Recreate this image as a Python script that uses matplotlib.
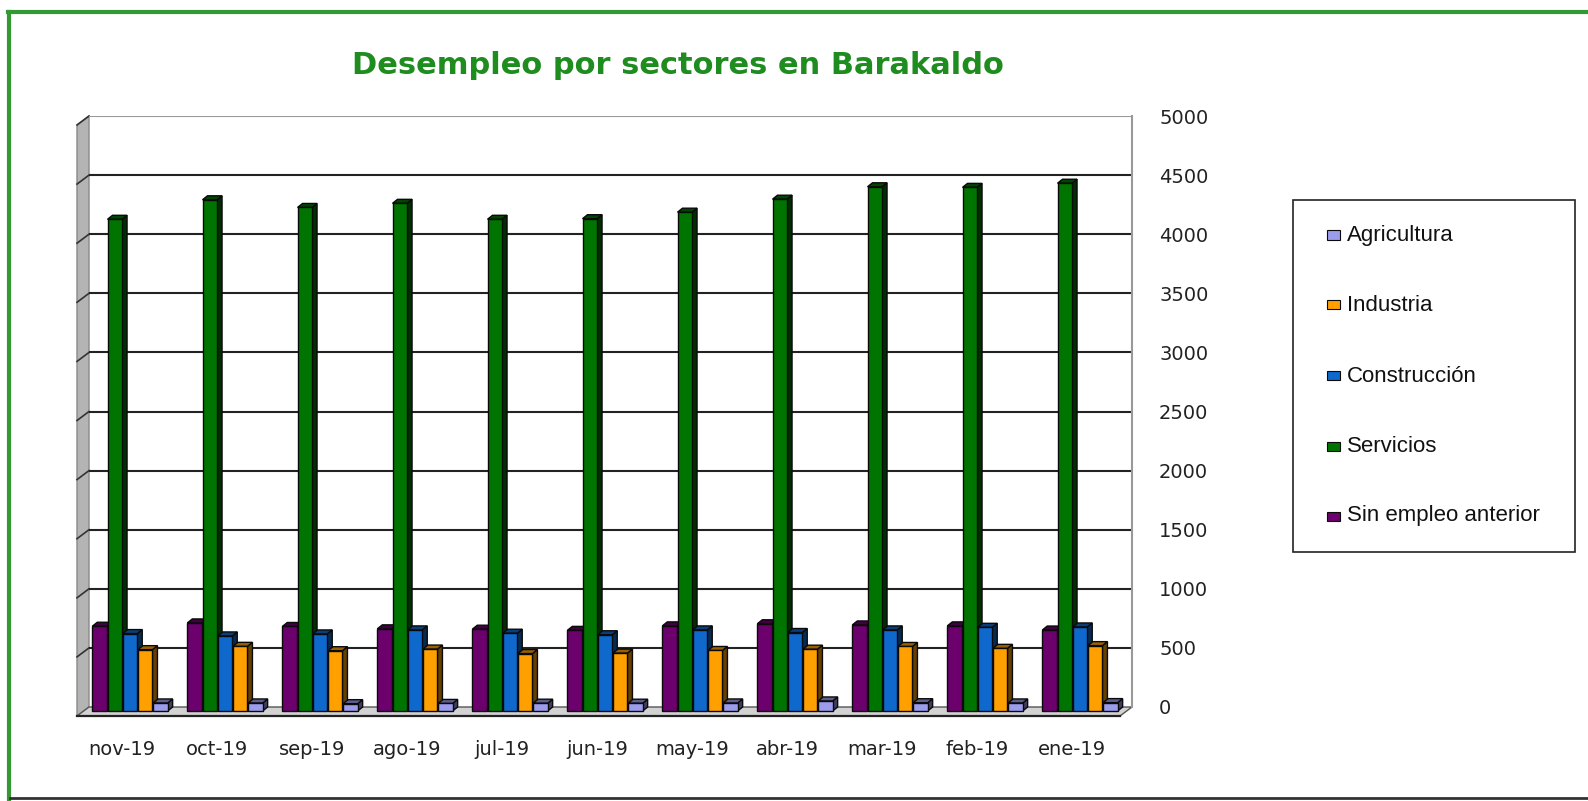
import numpy as np
import matplotlib
matplotlib.use('Agg')
import matplotlib.pyplot as plt
from matplotlib.patches import Polygon, Rectangle
from matplotlib.lines import Line2D
from matplotlib.colors import to_rgb
from matplotlib.transforms import IdentityTransform

meses = ['nov-19', 'oct-19', 'sep-19', 'ago-19', 'jul-19', 'jun-19',
         'may-19', 'abr-19', 'mar-19', 'feb-19', 'ene-19']
sin_empleo = [717, 745, 715, 695, 692, 682, 720, 738, 728, 720, 685]
servicios = [4160, 4325, 4260, 4295, 4160, 4165, 4220, 4330, 4435, 4430, 4465]
construccion = [655, 635, 652, 686, 658, 645, 686, 664, 686, 708, 711]
industria = [519, 547, 510, 524, 486, 490, 512, 523, 546, 530, 553]
agricultura = [68, 68, 62, 64, 66, 66, 68, 85, 70, 68, 71]
yticks = list(range(0, 5001, 500))

# orden de las barras dentro de cada mes (izq -> der)
series = [('Sin empleo anterior', sin_empleo, '#6c006c'),
          ('Servicios', servicios, '#007400'),
          ('Construcción', construccion, '#0f68cc'),
          ('Industria', industria, '#ffa000'),
          ('Agricultura', agricultura, '#9c9cec')]

def shade(c, f):
    return tuple(np.array(to_rgb(c)) * f)

W, H = 1588, 801
fig = plt.figure(figsize=(W/100, H/100), dpi=100)
ax = fig.add_axes([89/W, (H-707)/H, (1132-89)/W, (707-116)/H])
ax.set_xlim(-0.484, 10.495)
ax.set_ylim(0, 5000)

x = np.arange(len(meses))
step, width = 0.16, 0.153
edge = '#0a0a0a'
bd = np.array([5, 4])   # profundidad de las barras (px)
I = IdentityTransform()

for k, (name, vals, col) in enumerate(series):
    for xi, v in zip(x + (k-2)*step, vals):
        a = ax.transData.transform((xi - width/2, 0)) - bd
        b = ax.transData.transform((xi + width/2, v)) - bd
        x0, y0 = a
        x1, y1 = b
        side = [(x1, y0), (x1+bd[0], y0+bd[1]), (x1+bd[0], y1+bd[1]), (x1, y1)]
        cap = [(x0, y1), (x1, y1), (x1+bd[0], y1+bd[1]), (x0+bd[0], y1+bd[1])]
        z = 2 + 3*k
        ax.add_patch(Polygon(side, closed=True, facecolor=shade(col, 0.4),
                             edgecolor=edge, lw=1, transform=I, clip_on=False, zorder=z))
        ax.add_patch(Polygon(cap, closed=True, facecolor=shade(col, 0.6),
                             edgecolor=edge, lw=1, transform=I, clip_on=False, zorder=z+1))
        ax.add_patch(Rectangle((x0, y0), x1-x0, y1-y0, facecolor=col,
                               edgecolor=edge, lw=1, transform=I, clip_on=False, zorder=z+2))

# pared trasera
for v in yticks[1:-1]:
    ax.axhline(v, color='#222222', lw=1.5, zorder=1)
ax.axhline(5000, color='#999999', lw=1.5, zorder=1)
for s in ['left', 'bottom', 'top']:
    ax.spines[s].set_visible(False)
ax.spines['right'].set_color('#999999')
ax.spines['right'].set_linewidth(1.5)

# pared lateral y suelo
d = np.array([-12, -9])
bl = ax.transData.transform((ax.get_xlim()[0], 0))
tl = ax.transData.transform((ax.get_xlim()[0], 5000))
br = ax.transData.transform((ax.get_xlim()[1], 0))
ax.add_patch(Polygon([bl, tl, tl+d, bl+d], closed=True, facecolor='#b4b4b4',
                     edgecolor='#888888', lw=1, transform=I, clip_on=False, zorder=0.5))
ax.add_patch(Polygon([bl, br, br+d, bl+d], closed=True, facecolor='#d2d2d2',
                     edgecolor='#555555', lw=1, transform=I, clip_on=False, zorder=0.6))
ax.add_line(Line2D([bl[0]+d[0], br[0]+d[0]], [bl[1]+d[1], br[1]+d[1]],
                   color='#222222', lw=1.6, transform=I, clip_on=False, zorder=0.7))
for v in yticks[1:]:
    p = ax.transData.transform((ax.get_xlim()[0], v))
    ax.add_line(Line2D([p[0], p[0]+d[0]], [p[1], p[1]+d[1]], color='#333333',
                       lw=1.2, transform=I, clip_on=False, zorder=0.8))

ax.yaxis.tick_right()
ax.set_yticks(yticks)
ax.set_yticklabels([str(v) for v in yticks])
ax.tick_params(axis='y', length=0, pad=19.5, labelsize=14, labelcolor='#222222')
ax.set_xticks(x - 0.137)
ax.set_xticklabels(meses)
ax.tick_params(axis='x', length=0, pad=24, labelsize=14, labelcolor='#222222')

fig.text(677.5/W, 1-65/H, 'Desempleo por sectores en Barakaldo', ha='center',
         va='center', fontsize=22, fontweight='bold', color='#1e8c1e')

# leyenda
fig.add_artist(Rectangle((1293/W, 1-552/H), (1575-1293)/W, (552-200)/H,
                         transform=fig.transFigure, fill=False,
                         edgecolor='#222222', lw=1.2))
rows = [235, 305, 376, 446, 516]
for yy, (name, vals, col) in zip(rows, series[::-1]):
    fig.add_artist(Rectangle((1327/W, 1-(yy+4.5)/H), 13/W, 9/H,
                             transform=fig.transFigure, facecolor=col,
                             edgecolor=edge, lw=0.8))
    fig.text(1347/W, 1-yy/H, name, ha='left', va='center', fontsize=16,
             family='Liberation Sans', color='#111111')

# marco
fig.add_artist(Line2D([8/W, 1], [1-12/H, 1-12/H], color='#339933', lw=3,
                      transform=fig.transFigure))
fig.add_artist(Line2D([8.5/W, 8.5/W], [0, 1-12/H], color='#339933', lw=3,
                      transform=fig.transFigure))
fig.add_artist(Line2D([10/W, 1], [1-798/H, 1-798/H], color='#333333', lw=2,
                      transform=fig.transFigure))

fig.savefig('out.png', dpi=100)
